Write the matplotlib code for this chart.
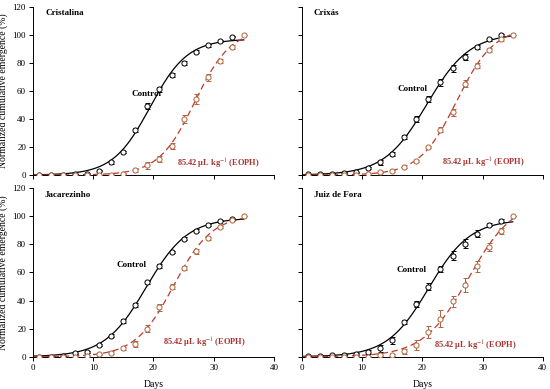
import matplotlib
matplotlib.use("Agg")
import matplotlib.pyplot as plt
import numpy as np

plt.rcParams['font.family'] = ['Liberation Serif', 'DejaVu Serif']
plt.rcParams['mathtext.fontset'] = 'stix'

days_ctrl = [1, 3, 5, 7, 9, 11, 13, 15, 17, 19, 21, 23, 25, 27, 29, 31, 33]
days_eoph = [1, 3, 5, 7, 9, 11, 13, 15, 17, 19, 21, 23, 25, 27, 29, 31, 33, 35]

sites = ["Cristalina", "Crixás", "Jacarezinho", "Juiz de Fora"]

# emergence (%)
cristalina_ctrl = [0, 0, 0.3, 0.5, 1, 3.1, 9, 16.4, 32, 49, 61, 71.4, 80, 87.9, 92.4, 95.5, 98.6]
cristalina_ctrl_err = [0.3, 0.3, 0.3, 0.5, 0.5, 0.5, 1, 1, 1.5, 2, 1.5, 1.2, 1.5, 1, 1, 0.8, 0.5]
cristalina_eoph = [0, 0, 0, 0, 0, 0, 0.2, 1, 3.3, 7, 11.4, 20.7, 39.8, 54, 69.5, 81, 91, 100]
cristalina_eoph_err = [0.2, 0.2, 0.2, 0.2, 0.2, 0.2, 0.3, 0.5, 1, 2.5, 2, 2, 3, 3.5, 2.5, 1.5, 1.5, 0]

crixas_ctrl = [0.7, 1, 1, 1.7, 2, 5, 9, 15, 27, 40, 54, 66, 76, 84, 91, 96.7, 99.5]
crixas_ctrl_err = [0.3, 0.3, 0.3, 0.5, 0.5, 1, 1.5, 1.5, 1.5, 2, 2, 2.5, 2.5, 2, 1.5, 1, 0.8]
crixas_eoph = [0, 0, 0, 0, 0, 1, 2, 3, 6, 10, 20, 32.4, 44.8, 65, 78, 89, 97, 100]
crixas_eoph_err = [0.2, 0.2, 0.2, 0.2, 0.2, 0.3, 0.5, 0.5, 1, 1, 1, 1.5, 2.5, 2.5, 2, 1.5, 1.5, 0]

jacarezinho_ctrl = [0, 0, 0.3, 2.4, 3.3, 8.3, 15, 25.7, 37, 53, 64.5, 74.6, 84, 89.8, 94, 97, 98.3]
jacarezinho_ctrl_err = [0.2, 0.2, 0.3, 0.5, 0.5, 1, 1, 1.5, 1.5, 1.2, 1.2, 1, 1, 1, 0.8, 0.6, 0.5]
jacarezinho_eoph = [0, 0, 0, 0, 0.7, 1.7, 3, 6, 9, 20, 35.4, 50, 63, 75, 84.3, 92.4, 97.6, 100]
jacarezinho_eoph_err = [0.2, 0.2, 0.2, 0.2, 0.3, 0.5, 0.8, 1, 2, 2.5, 2.5, 2, 1.5, 1.5, 1, 1, 1, 0]

juiz_ctrl = [0.5, 0.7, 1, 1.4, 2, 3.3, 6, 11.6, 24.8, 37.6, 50, 62.6, 72, 80.6, 87.5, 94, 97]
juiz_ctrl_err = [0.3, 0.3, 0.5, 0.5, 1, 1.5, 2.5, 2.5, 1.5, 2, 2.5, 2, 3, 3, 2.5, 1.2, 1]
juiz_eoph = [0, 0, 0, 0, 0, 0, 1, 1.2, 3.8, 8.5, 17.5, 27, 39.5, 51, 64.5, 78, 89.6, 100]
juiz_eoph_err = [0.2, 0.2, 0.2, 0.2, 0.2, 0.2, 0.5, 0.8, 2, 3.5, 4.5, 6, 4, 5, 4, 3, 2, 0]

ctrl_data = [(cristalina_ctrl, cristalina_ctrl_err), (crixas_ctrl, crixas_ctrl_err),
             (jacarezinho_ctrl, jacarezinho_ctrl_err), (juiz_ctrl, juiz_ctrl_err)]
eoph_data = [(cristalina_eoph, cristalina_eoph_err), (crixas_eoph, crixas_eoph_err),
             (jacarezinho_eoph, jacarezinho_eoph_err), (juiz_eoph, juiz_eoph_err)]

# label anchors (day, %)
ctrl_label_pos = [(16.4, 58), (15.8, 61), (13.8, 65), (15.7, 62)]
eoph_label_pos = [(23.9, 8), (23.2, 8.5), (21.6, 9.5), (21.9, 8)]

eoph_label = r"85.42 µL kg$^{-1}$ (EOPH)"
red_line = "#c0392b"
brown = "#b0623a"
label_red = "#a83232"


def fit_logistic(x, y):
    # 3 parameter logistic, least squares by grid search
    x = np.asarray(x, float)
    y = np.asarray(y, float)
    best = None
    for x0 in np.arange(10, 35, 0.05):
        for b in np.arange(1, 8, 0.05):
            f = 1 / (1 + np.exp(-(x - x0) / b))
            a = f @ y / (f @ f)
            sse = ((a * f - y) ** 2).sum()
            if best is None or sse < best[0]:
                best = (sse, a, x0, b)
    return best[1:]


def logistic(x, a, x0, b):
    return a / (1 + np.exp(-(x - x0) / b))


fig = plt.figure(figsize=(5.5, 3.89), dpi=100)
w, h = 0.438, 0.433
positions = [(0.06, 0.550), (0.549, 0.550), (0.06, 0.083), (0.549, 0.083)]
xs = np.linspace(0, 35, 300)

for i, site in enumerate(sites):
    ax = fig.add_axes([positions[i][0], positions[i][1], w, h])
    yc, ec = ctrl_data[i]
    ye, ee = eoph_data[i]

    pc = fit_logistic(days_ctrl, yc)
    pe = fit_logistic(days_eoph, ye)
    ax.plot(xs, logistic(xs, *pc), color="black", lw=0.9, zorder=2)
    ax.plot(xs, logistic(xs, *pe), color=red_line, lw=0.9, ls=(0, (5, 3)), zorder=2)

    ax.errorbar(days_ctrl, yc, yerr=ec, fmt="o", ms=3.7, mfc="white", mec="black",
                mew=0.7, ecolor="black", elinewidth=0.7, capsize=1.8, capthick=0.7, zorder=3)
    ax.errorbar(days_eoph, ye, yerr=ee, fmt="o", ms=3.7, mfc="white", mec=brown,
                mew=0.7, ecolor=brown, elinewidth=0.7, capsize=1.8, capthick=0.7, zorder=3)

    ax.text(0.05, 0.96, site, transform=ax.transAxes, fontsize=6.5, fontweight="bold",
            va="center", ha="left")
    ax.text(*ctrl_label_pos[i], "Control", fontsize=6.5, fontweight="bold", ha="left", va="center")
    ax.text(*eoph_label_pos[i], eoph_label, fontsize=6, fontweight="bold", color=label_red,
            ha="left", va="center")

    ax.set_xlim(0, 40)
    ax.set_ylim(0, 120)
    ax.set_xticks([0, 10, 20, 30, 40])
    ax.set_yticks([0, 20, 40, 60, 80, 100, 120])
    ax.spines["top"].set_visible(False)
    ax.spines["right"].set_visible(False)
    for s in ["left", "bottom"]:
        ax.spines[s].set_linewidth(0.7)
    ax.tick_params(direction="out", length=3, width=0.7, labelsize=6.5, pad=2)

    if i % 2 == 1:
        ax.tick_params(labelleft=False)
    else:
        ax.set_ylabel("Normalized cumulative emergence (%)", fontsize=7, labelpad=3)
    if i < 2:
        ax.tick_params(labelbottom=False)
    else:
        ax.set_xlabel("Days", fontsize=7, labelpad=6)

fig.savefig("out.png", dpi=100)
